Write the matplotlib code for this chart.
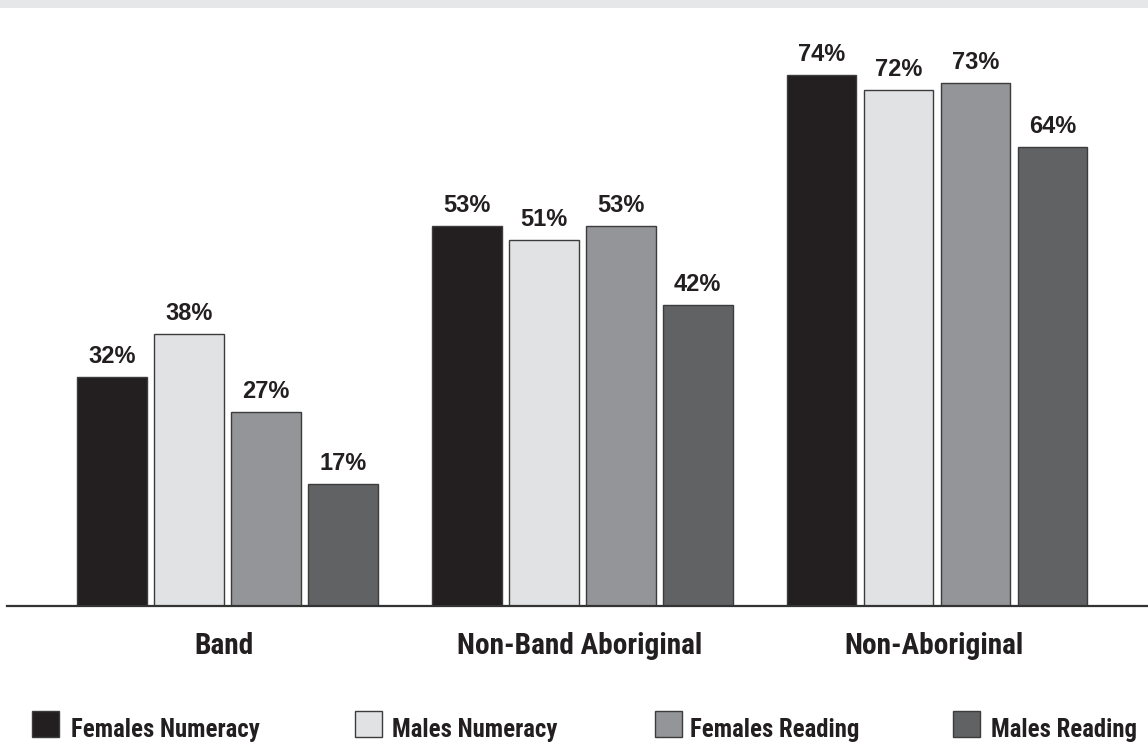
import matplotlib
matplotlib.use("Agg")
import matplotlib.pyplot as plt
from matplotlib.patches import Rectangle

categories = ["Band", "Non-Band Aboriginal", "Non-Aboriginal"]
series = ["Females Numeracy", "Males Numeracy", "Females Reading", "Males Reading"]
females_numeracy = [32, 53, 74]
males_numeracy = [38, 51, 72]
females_reading = [27, 53, 73]
males_reading = [17, 42, 64]
values = [females_numeracy, males_numeracy, females_reading, males_reading]

colors = ["#231f20", "#e1e2e4", "#939598", "#616264"]

W, H = 1148, 742
fig = plt.figure(figsize=(W / 100, H / 100), dpi=100)

# grey strip at the top
fig.add_artist(Rectangle((0, 1 - 8 / H), 1, 8 / H, transform=fig.transFigure,
                         facecolor="#e6e7e8", edgecolor="none"))

base_px = 606
ax = fig.add_axes([0, (H - base_px) / H, 1, (base_px - 8) / H])
ax.set_xlim(-0.6413, 2.5948)
ax.set_ylim(0, 598 / 7.17)
ax.axis("off")

val_font = dict(family="Liberation Sans", weight="bold", size=17, color="#231f20")
cond = ["Roboto Condensed", "DejaVu Sans"]

step = 0.217
width = 0.197
for i, (name, vals) in enumerate(zip(series, values)):
    xs = [g + (i - 1.5) * step for g in range(len(categories))]
    ax.bar(xs, vals, width=width, color=colors[i], edgecolor="#3c3c3c",
           linewidth=1.0, zorder=2)
    for x, v in zip(xs, vals):
        ax.annotate(f"{v}%", xy=(x, v), xytext=(0, 14), textcoords="offset pixels",
                    ha="center", va="baseline", **val_font)

# baseline
ax.axhline(0, xmin=7 / W, xmax=1, color="#333333", linewidth=1.6, zorder=3,
           clip_on=False)

for g, cat in enumerate(categories):
    ax.annotate(cat, xy=(g, 0), xytext=(-3, -48), textcoords="offset pixels",
                ha="center", va="baseline", annotation_clip=False,
                family=cond, weight="bold", size=21.2, color="#231f20")

# legend row
box_x = [32, 355, 655, 953]
text_x = [71, 392, 690, 991]
for i, name in enumerate(series):
    fig.add_artist(Rectangle((box_x[i] / W, (H - 737) / H), 27 / W, 26 / H,
                             transform=fig.transFigure, facecolor=colors[i],
                             edgecolor="#3c3c3c", linewidth=1.0))
    fig.text(text_x[i] / W, (H - 737) / H, name, ha="left", va="baseline",
             family=cond, weight="bold", size=17.8, color="#231f20")

fig.savefig("out.png", dpi=100, facecolor="white")
